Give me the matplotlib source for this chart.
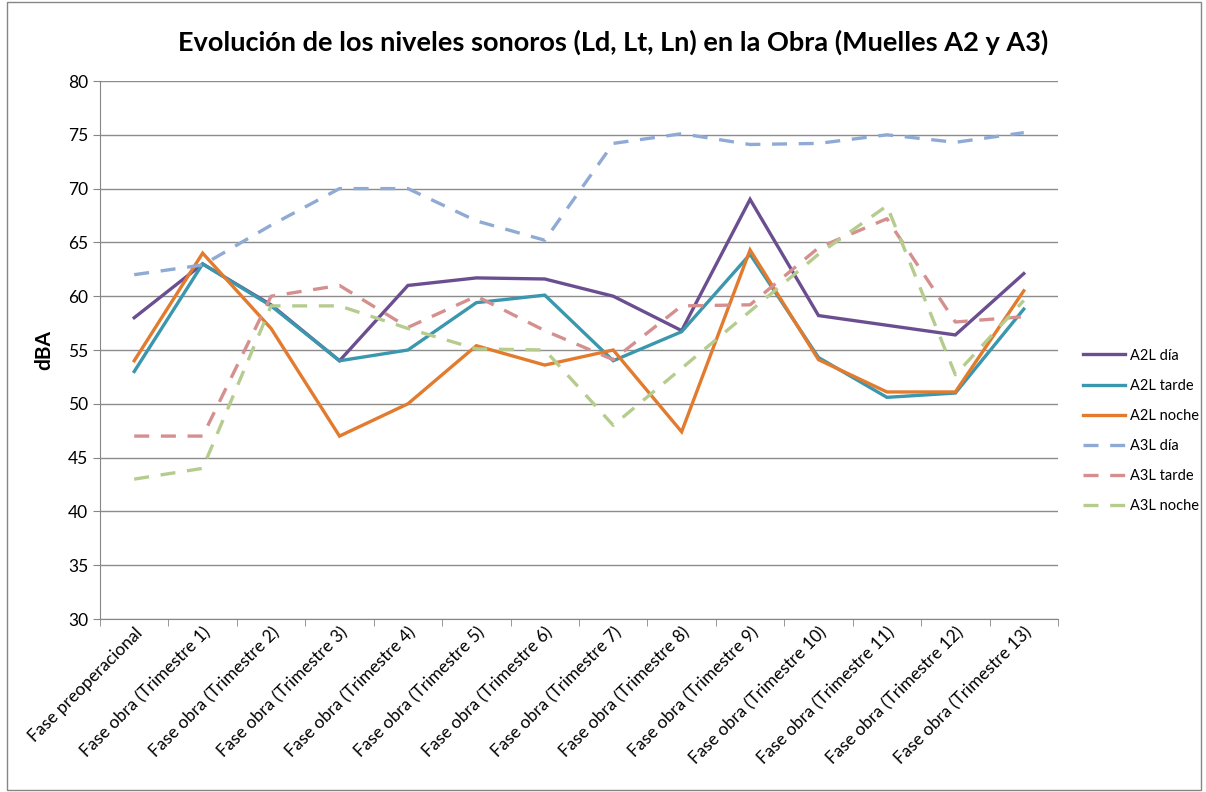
import numpy as np
import matplotlib
matplotlib.use("Agg")
import matplotlib.pyplot as plt
from matplotlib.patches import Rectangle

plt.rcParams['font.family'] = ['Lato', 'DejaVu Sans']

categorias = ["Fase preoperacional"] + ["Fase obra (Trimestre %d)" % i for i in range(1, 14)]

a2l_dia   = [58.0, 63.0, 59.2, 54.0, 61.0, 61.7, 61.6, 60.0, 56.8, 69.0, 58.2, 57.3, 56.4, 62.1]
a2l_tarde = [53.0, 63.0, 59.1, 54.0, 55.0, 59.4, 60.1, 54.0, 56.7, 63.9, 54.3, 50.6, 51.0, 58.8]
a2l_noche = [54.0, 64.0, 57.0, 47.0, 50.0, 55.4, 53.6, 55.0, 47.4, 64.3, 54.1, 51.1, 51.1, 60.5]
a3l_dia   = [62.0, 62.9, 66.6, 70.0, 70.0, 67.0, 65.2, 74.2, 75.1, 74.1, 74.2, 75.0, 74.3, 75.2]
a3l_tarde = [47.0, 47.0, 60.0, 61.0, 57.1, 60.0, 56.8, 54.1, 59.1, 59.2, 64.5, 67.2, 57.6, 58.1]
a3l_noche = [43.0, 44.0, 59.1, 59.1, 57.0, 55.1, 55.0, 48.0, 53.3, 58.6, 63.9, 68.4, 52.7, 59.6]

series = [
    ("A2L día", a2l_dia, "#6B4E8F", "-"),
    ("A2L tarde", a2l_tarde, "#3A97AD", "-"),
    ("A2L noche", a2l_noche, "#E27B2E", "-"),
    ("A3L día", a3l_dia, "#8FAAD4", "--"),
    ("A3L tarde", a3l_tarde, "#D48F8E", "--"),
    ("A3L noche", a3l_noche, "#B5CC8E", "--"),
]

fig = plt.figure(figsize=(12.06, 7.92), dpi=100)
ax = fig.add_axes([100 / 1206, 1 - 619 / 792, 958 / 1206, 538 / 792])

x = np.arange(len(categorias))
for nombre, valores, color, estilo in series:
    ln, = ax.plot(x, valores, color=color, lw=2.4, ls=estilo, label=nombre,
                  solid_joinstyle='miter')
    if estilo == "--":
        ln.set_dashes((4.5, 3.5))

ax.set_ylim(30, 80)
ax.set_yticks(np.arange(30, 81, 5))
ax.set_xlim(-0.5, len(categorias) - 0.5)
ax.set_xticks(x)
ax.set_xticklabels(categorias, rotation=45, ha='right', rotation_mode='anchor', fontsize=12.5)
ax.set_xticks(np.arange(-0.5, len(categorias), 1), minor=True)
ax.tick_params(axis='x', which='major', length=0, pad=4)
ax.tick_params(axis='x', which='minor', length=5, color='#868686')
ax.tick_params(axis='y', length=5, color='#868686', labelsize=12.5)

ax.grid(axis='y', color='#8C8C8C', lw=1)
ax.set_axisbelow(True)
for s in ['top', 'right']:
    ax.spines[s].set_visible(False)
for s in ['left', 'bottom']:
    ax.spines[s].set_color('#868686')

ax.set_ylabel("dBA", fontsize=15, fontweight='bold', labelpad=10)
fig.text(0.508, 0.946, "Evolución de los niveles sonoros (Ld, Lt, Ln) en la Obra (Muelles A2 y A3)",
         ha='center', va='center', fontsize=19.5, fontweight='bold')

ax.legend(loc='center left', bbox_to_anchor=(1.02, 0.35), borderaxespad=0, frameon=False,
          fontsize=10.5, handlelength=2.9, labelspacing=1.1, handletextpad=0.3)

fig.patches.append(Rectangle((0.006, 0.003), 0.99, 0.994, transform=fig.transFigure,
                             fill=False, edgecolor='#868686', lw=1))

fig.savefig("out.png", dpi=100)
